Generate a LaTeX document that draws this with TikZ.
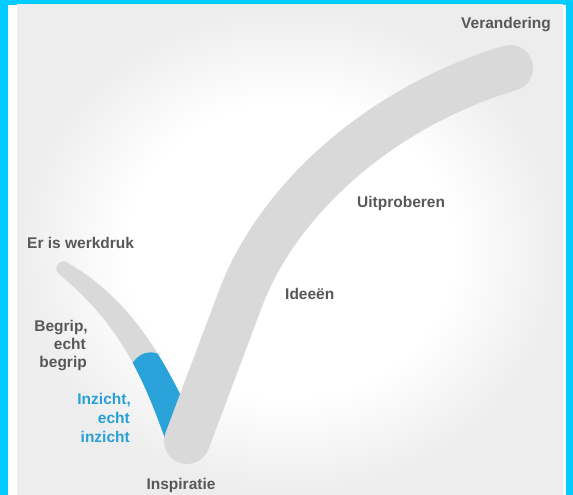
\documentclass[tikz,border=0pt]{standalone}
\usepackage{fontspec}
\setmainfont{Liberation Sans}
\definecolor{cyanb}{RGB}{0,204,255}
\definecolor{armgray}{RGB}{217,217,217}
\definecolor{bluefill}{RGB}{41,163,218}
\definecolor{txtgray}{RGB}{88,88,88}
\definecolor{txtblue}{RGB}{40,160,214}
\definecolor{bggray}{RGB}{237,237,237}
\pgfdeclareradialshading{bgshade}{\pgfpoint{0bp}{0bp}}{color(0bp)=(white); color(15bp)=(white); color(25bp)=(bggray); color(50bp)=(bggray)}
\def\lftarm{(68,263) .. controls (133,300.5) and (165.75,362.2) .. (195,425) -- (185,440) -- (168,447) .. controls (143.25,376.5) and (120.6,325.2) .. (59,274) .. controls (51.7,268) and (60.7,257) .. (68,263) -- cycle}
\begin{document}
\begin{tikzpicture}[x=1pt,y=-1pt,
  lbl/.style={font=\fontsize{15.5}{18}\selectfont\bfseries, text=txtgray, inner sep=0pt},
  lblblue/.style={lbl, text=txtblue}]
\useasboundingbox (0,0) rectangle (573,495);
% frame and background
\fill[cyanb] (0,0) rectangle (573,495);
\fill[white] (8,5) rectangle (566,495);
\shade[shading=bgshade] (17,5) rectangle (563,495);
% left arm
\fill[armgray] \lftarm;
\begin{scope}
  \clip \lftarm;
  \fill[bluefill] (128,372) .. controls (136,350) and (155,347) .. (167,360) -- (230,480) -- (110,480) -- cycle;
\end{scope}
% right arm
\draw[armgray, line width=46pt, line cap=round] (187,441) -- (240,300) .. controls (277,200) and (380,107) .. (510,68);
% labels
\node[lbl, anchor=base east] (verandering) at (551,29) {Verandering};
\node[lbl, anchor=base west] (werkdruk) at (27,248) {Er is werkdruk};
\node[lbl, anchor=base east] (begrip1) at (88,331) {Begrip,};
\node[lbl, anchor=base east] (begrip2) at (86,349) {echt};
\node[lbl, anchor=base east] (begrip3) at (87,367) {begrip};
\node[lblblue, anchor=base east] (inzicht1) at (131,404) {Inzicht,};
\node[lblblue, anchor=base east] (inzicht2) at (130,423) {echt};
\node[lblblue, anchor=base east] (inzicht3) at (130,442) {inzicht};
\node[lbl, anchor=base] (inspiratie) at (181,489) {Inspiratie};
\node[lbl, anchor=base west] (ideeen) at (285,299) {Ideeën};
\node[lbl, anchor=base west] (uitproberen) at (357,207) {Uitproberen};
\end{tikzpicture}
\end{document}
